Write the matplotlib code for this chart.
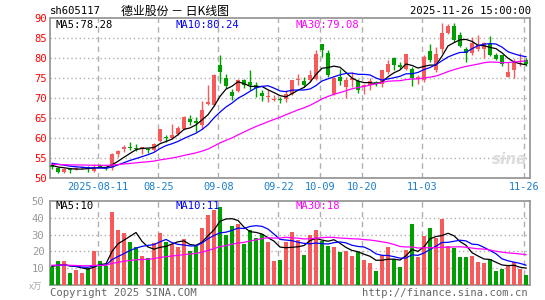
import numpy as np
import pandas as pd
import matplotlib
matplotlib.use("Agg")
import matplotlib.pyplot as plt

# daily candles, 2025-07-30 .. 2025-11-26 (80 sessions)
opens = [53.25, 52.4, 51.3, 52.1, 52.1, 52.3, 52.6, 51.6, 53.1, 52.7,
         52.3, 56.0, 57.25, 57.6, 57.5, 57.25, 57.25, 57.0, 59.2, 60.1,
         60.0, 61.0, 62.25, 64.75, 64.1, 63.1, 68.5, 68.1, 78.1, 75.0,
         71.4, 71.6, 74.5, 73.9, 73.25, 71.2, 70.2, 69.5, 69.6, 69.75,
         71.0, 74.3, 74.1, 74.3, 74.75, 83.3, 81.2, 70.8, 75.2, 72.7,
         74.5, 74.2, 72.7, 73.1, 73.9, 73.5, 76.4, 80.0, 78.1, 77.25,
         77.1, 74.75, 74.3, 81.6, 76.8, 82.25, 86.25, 87.9, 85.6, 82.1,
         81.25, 82.1, 82.25, 83.5, 80.6, 80.6, 75.2, 76.8, 78.3, 79.3]
highs = [53.7, 52.7, 52.3, 52.4, 52.7, 52.9, 52.9, 53.5, 53.3, 52.8,
         56.2, 57.0, 58.25, 59.0, 58.5, 57.7, 57.4, 58.75, 62.25, 60.75,
         63.3, 62.9, 65.4, 65.6, 65.2, 69.2, 73.1, 75.8, 80.6, 75.8,
         72.25, 74.75, 74.75, 77.0, 73.9, 72.0, 71.8, 70.75, 70.2, 71.8,
         74.5, 76.0, 75.2, 76.8, 82.0, 83.5, 81.8, 75.2, 77.25, 75.2,
         76.4, 74.75, 73.5, 75.0, 74.2, 77.0, 79.5, 80.2, 78.9, 81.0,
         77.7, 75.6, 80.75, 83.5, 82.6, 88.75, 88.5, 88.75, 86.4, 82.7,
         85.2, 85.75, 83.9, 85.4, 81.25, 80.75, 78.9, 79.75, 81.2, 80.0]
lows = [52.1, 51.25, 51.1, 51.2, 51.8, 52.1, 51.4, 51.3, 52.4, 52.0,
        51.9, 55.1, 56.4, 56.8, 56.6, 55.8, 56.25, 56.75, 58.9, 58.9,
        59.75, 60.6, 62.0, 63.1, 61.4, 62.25, 68.1, 67.9, 73.7, 72.5,
        69.5, 71.4, 72.4, 72.0, 70.2, 69.2, 68.9, 69.2, 68.75, 68.9,
        70.6, 73.1, 72.7, 73.9, 74.5, 80.2, 75.2, 70.6, 73.1, 70.0,
        72.7, 71.2, 71.0, 72.0, 72.9, 72.7, 76.0, 77.0, 77.25, 76.8,
        72.9, 73.5, 73.9, 78.9, 76.4, 81.25, 86.0, 83.9, 82.7, 78.9,
        80.75, 81.6, 79.9, 80.4, 79.4, 77.9, 75.2, 74.9, 78.0, 78.0]
closes = [52.7, 51.4, 52.1, 51.8, 52.5, 52.7, 52.1, 52.7, 52.6, 52.4,
          56.0, 56.6, 57.7, 57.4, 57.1, 57.6, 56.9, 58.5, 62.1, 59.9,
          60.6, 62.4, 65.2, 63.9, 63.7, 66.8, 68.9, 75.6, 76.4, 72.8,
          70.4, 74.5, 73.25, 73.1, 72.5, 70.4, 70.4, 69.75, 69.3, 71.0,
          74.3, 74.75, 73.25, 75.6, 81.0, 82.0, 75.6, 75.0, 74.2, 74.5,
          75.0, 71.8, 73.1, 74.2, 73.3, 76.8, 78.5, 78.1, 77.7, 80.8,
          75.0, 75.2, 80.2, 79.3, 80.8, 86.25, 87.9, 84.3, 82.9, 81.25,
          83.75, 83.1, 83.75, 80.75, 79.75, 78.5, 76.4, 79.0, 78.6, 78.4]
volume = [11.0, 14.1, 14.1, 7.1, 9.2, 7.1, 10.0, 20.4, 14.5, 11.6,
          43.5, 32.7, 31.2, 25.7, 22.9, 17.5, 15.9, 24.9, 31.0, 25.7,
          24.7, 22.4, 27.3, 20.4, 23.3, 34.1, 41.4, 44.3, 46.3, 29.8,
          35.1, 36.1, 24.7, 32.7, 27.8, 30.2, 25.3, 14.5, 15.2, 25.8,
          31.6, 26.7, 18.2, 29.9, 32.4, 26.4, 23.4, 22.5, 19.5, 20.1,
          17.6, 19.5, 15.2, 13.4, 8.2, 17.8, 22.4, 15.5, 10.6, 21.0,
          36.5, 16.5, 29.2, 34.1, 27.8, 39.4, 23.3, 21.8, 16.9, 16.9,
          17.5, 13.5, 12.9, 15.5, 8.6, 9.6, 11.6, 13.9, 9.6, 6.3]

# earlier sessions (before the window), only used to warm up the moving averages
pre_close = [53.0, 53.4, 53.2, 52.9, 53.1, 53.5, 53.3, 52.8, 53.0, 53.4,
             53.2, 53.1, 53.3, 53.0, 52.9, 53.2, 53.4, 53.3, 53.1, 53.2,
             53.8, 54.3, 54.5, 54.0, 53.9, 53.4, 53.0, 52.9, 53.1]
pre_volume = [12, 11, 13, 12, 12, 11, 13, 12, 12, 11,
              13, 12, 12, 11, 12, 13, 12, 11, 12, 12,
              12, 13, 11, 12, 12, 11, 12, 11, 11]

tick_idx = [8, 18, 28, 38, 45, 52, 62, 79]
tick_labels = ["2025-08-11", "08-25", "09-08", "09-22", "10-09", "10-20", "11-03", "11-26"]

RED = "#f65a5a"
GREEN = "#009f00"
GRID = "#b0b0b0"
MONO = "DejaVu Sans Mono"
CJK = ["Noto Sans CJK SC", "DejaVu Sans"]


def moving_avgs(pre, vals):
    s = pd.Series(list(pre) + list(vals))
    n = len(pre)
    return [s.rolling(w).mean().values[n:] for w in (5, 10, 30)]


W, H = 545, 300
fig = plt.figure(figsize=(W / 100, H / 100), dpi=100)
fig.patch.set_facecolor("white")


def px_rect(left, top, right, bottom):
    return [left / W, 1 - bottom / H, (right - left) / W, (bottom - top) / H]


def ftext(x, y, s, **kw):
    fig.text(x / W, 1 - y / H, s, **kw)


ax1 = fig.add_axes(px_rect(50, 17.5, 530, 177.5))
ax2 = fig.add_axes(px_rect(50, 200.7, 530, 285.3))

x = np.arange(len(closes))
o = np.array(opens)
c = np.array(closes)
up = c >= o
cols = np.where(up, RED, GREEN)

# candles
ax1.vlines(x, lows, highs, colors=cols, linewidth=1, zorder=3)
body_lo = np.minimum(o, c)
body_h = np.maximum(np.abs(c - o), 0.15)
ax1.bar(x, body_h, bottom=body_lo, width=0.75, color=cols, linewidth=0, zorder=4)

ma_cols = ["black", "#0000ff", "#ff00ff"]
for ma, col in zip(moving_avgs(pre_close, closes), ma_cols):
    ax1.plot(x, ma, color=col, linewidth=0.9, zorder=5)

# volume
ax2.bar(x, volume, width=0.82, color=cols, linewidth=0, zorder=3)
for ma, col in zip(moving_avgs(pre_volume, volume), ma_cols):
    ax2.plot(x, ma, color=col, linewidth=0.9, zorder=5)

grid_x = [t - 0.3 for t in tick_idx]
for ax in (ax1, ax2):
    ax.set_xlim(-1 / 3, 79 + 2 / 3)
    for s in ax.spines.values():
        s.set_color("#999999")
        s.set_linewidth(1.3)
    for gx in grid_x:
        ax.axvline(gx, color=GRID, linestyle=(0, (4, 3)), linewidth=1, zorder=1)
    ax.tick_params(length=0)

ax1.set_ylim(50, 90)
ax1.set_yticks(range(50, 91, 5))
ax1.set_yticklabels([str(v) for v in range(50, 91, 5)], color="red",
                    fontsize=7.6, family=MONO)
for v in range(55, 90, 5):
    ax1.axhline(v, color=GRID, linestyle=(0, (1, 2)), linewidth=1, zorder=1)
ax1.set_xticks(grid_x)
ax1.set_xticklabels(tick_labels, color="#1a7fd0", fontsize=7.4, family=MONO)
ax1.tick_params(axis="x", pad=3)
ax1.tick_params(axis="y", pad=2)

ax2.set_ylim(0, 50)
ax2.set_yticks(range(10, 51, 10))
ax2.set_yticklabels([str(v) for v in range(10, 51, 10)], color="#999999",
                    fontsize=7.6, family=MONO)
ax2.tick_params(axis="y", pad=4)
for v in range(10, 50, 10):
    ax2.axhline(v, color=GRID, linestyle=(0, (1, 2)), linewidth=1, zorder=1)
ax2.set_xticks(grid_x)
ax2.set_xticklabels([])

# header
ftext(50, 11, "sh605117", fontsize=7.6, family=MONO, va="center")
ftext(121, 11, "德业股份 － 日K线图", fontsize=8.6, family=CJK, va="center")
ftext(531, 11, "2025-11-26 15:00:00", fontsize=7.6, family=MONO, va="center", ha="right")

ftext(55, 25, "MA5:78.28", fontsize=7.6, family=MONO, va="center", color="black")
ftext(175, 25, "MA10:80.24", fontsize=7.6, family=MONO, va="center", color="#0000ff")
ftext(296, 25, "MA30:79.08", fontsize=7.6, family=MONO, va="center", color="#ff00ff")

ftext(55, 206, "MA5:10", fontsize=7.6, family=MONO, va="center", color="black")
ftext(175, 206, "MA10:11", fontsize=7.6, family=MONO, va="center", color="#0000ff")
ftext(295, 206, "MA30:18", fontsize=7.6, family=MONO, va="center", color="#ff00ff")

ftext(36, 287, "x万", fontsize=6.5, family=CJK, va="center", ha="center", color="#aaaaaa")
ftext(50, 293, "Copyright 2025 SINA.COM", fontsize=7.6, family=MONO, va="center", color="#666666")
ftext(528, 293, "http://finance.sina.com.cn", fontsize=7.6, family=MONO, va="center",
      ha="right", color="#666666")
ftext(510, 160, "sina", fontsize=11, style="italic", weight="bold", color="#dddddd",
      ha="center", va="center")

fig.savefig("out.png", dpi=100)
